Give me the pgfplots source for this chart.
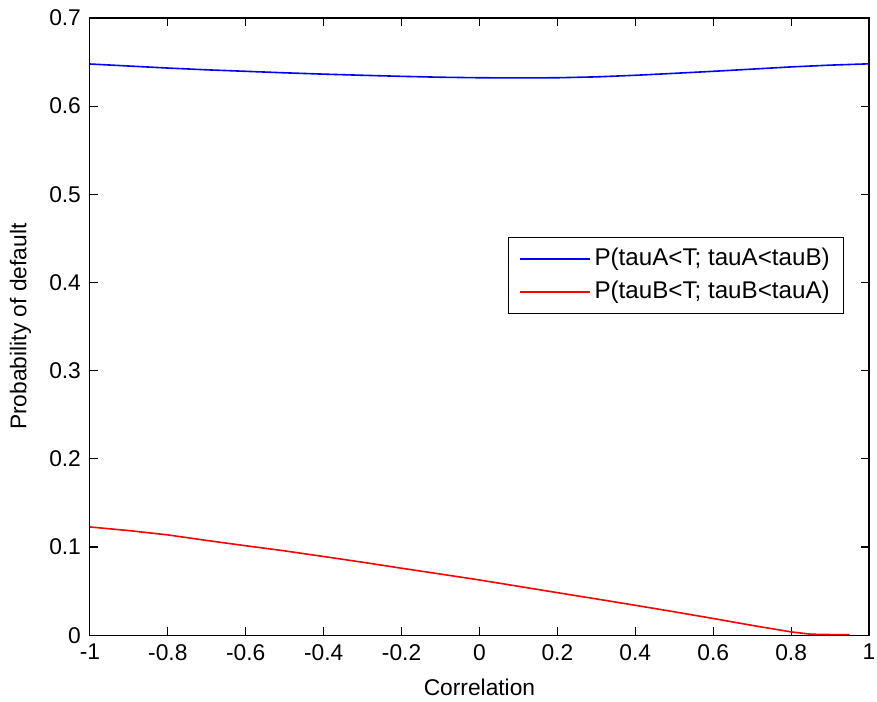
\documentclass[border=0pt]{standalone}
\usepackage{pgfplots}
\pgfplotsset{compat=1.18}
\usepackage{fontspec}
\setmainfont{Liberation Sans}
\newcommand{\chartfont}{\fontsize{11.4}{13}\selectfont}
\newcommand{\legendfont}{\fontsize{12.1}{14}\selectfont}
\begin{document}
\chartfont
\begin{tikzpicture}
\begin{axis}[
  scale only axis,
  width=390pt, height=309pt,
  xmin=-1, xmax=1, ymin=0, ymax=0.7,
  xtick={-1,-0.8,...,1},
  ytick={0,0.1,...,0.7},
  /pgf/number format/assume math mode=true,
  /pgf/number format/fixed,
  /pgf/number format/precision=1,
  tick label style={font=\chartfont},
  yticklabel style={xshift=-0.5pt},
  xticklabel style={yshift=-0.5pt},
  label style={font=\chartfont},
  xlabel={Correlation},
  ylabel={Probability of default},
  xlabel style={at={(axis description cs:0.5,-0.084)}, anchor=center},
  ylabel style={at={(axis description cs:-0.089,0.5)}, anchor=center},
  major tick length=4pt,
  tick style={black, line width=0.6pt},
  axis line style={black, line width=0.6pt},
  legend style={at={(0.968,0.6456)}, anchor=north east,
    font=\legendfont, cells={anchor=west},
    inner xsep=5pt, inner ysep=3.5pt, row sep=2pt},
  legend image code/.code={\draw[mark repeat=2,mark phase=2,#1]
    plot coordinates {(0pt,0pt) (35pt,0pt)};},
  legend image post style={line width=1pt},
]
% P(tauA<T; tauA<tauB)
\addplot[color=blue, line width=0.8pt] coordinates {
  (-1.0,0.6478) (-0.9,0.6455) (-0.8,0.6432) (-0.7,0.6412) (-0.6,0.6395)
  (-0.5,0.6378) (-0.4,0.6363) (-0.3,0.6350) (-0.2,0.6338) (-0.1,0.6328)
  (0.0,0.6322) (0.1,0.6320) (0.2,0.6322) (0.3,0.6332) (0.4,0.6350)
  (0.5,0.6372) (0.6,0.6395) (0.7,0.6420) (0.8,0.6445) (0.9,0.6465)
  (1.0,0.6480)
};
\addlegendentry{P(tauA<T; tauA<tauB)}
% P(tauB<T; tauB<tauA)
\addplot[color=red, line width=0.8pt] coordinates {
  (-1.0,0.1228) (-0.9,0.1187) (-0.8,0.1138) (-0.7,0.1075) (-0.6,0.1015)
  (-0.5,0.0957) (-0.4,0.0893) (-0.3,0.0828) (-0.2,0.0760) (-0.1,0.0694)
  (0.0,0.0627) (0.1,0.0555) (0.2,0.0483) (0.3,0.0412) (0.4,0.0340)
  (0.5,0.0266) (0.6,0.0190) (0.7,0.0112) (0.75,0.0075) (0.8,0.0038)
  (0.85,0.0012) (0.9,0.0008) (0.95,0.0008)
};
\addlegendentry{P(tauB<T; tauB<tauA)}
\end{axis}
\pgfresetboundingbox
\path (current axis.south west) ++(-45pt,-33pt) coordinate (bbA);
\path (current axis.north east) ++(4pt,9pt) coordinate (bbB);
\path[use as bounding box] (bbA) rectangle (bbB);
\end{tikzpicture}
\end{document}
